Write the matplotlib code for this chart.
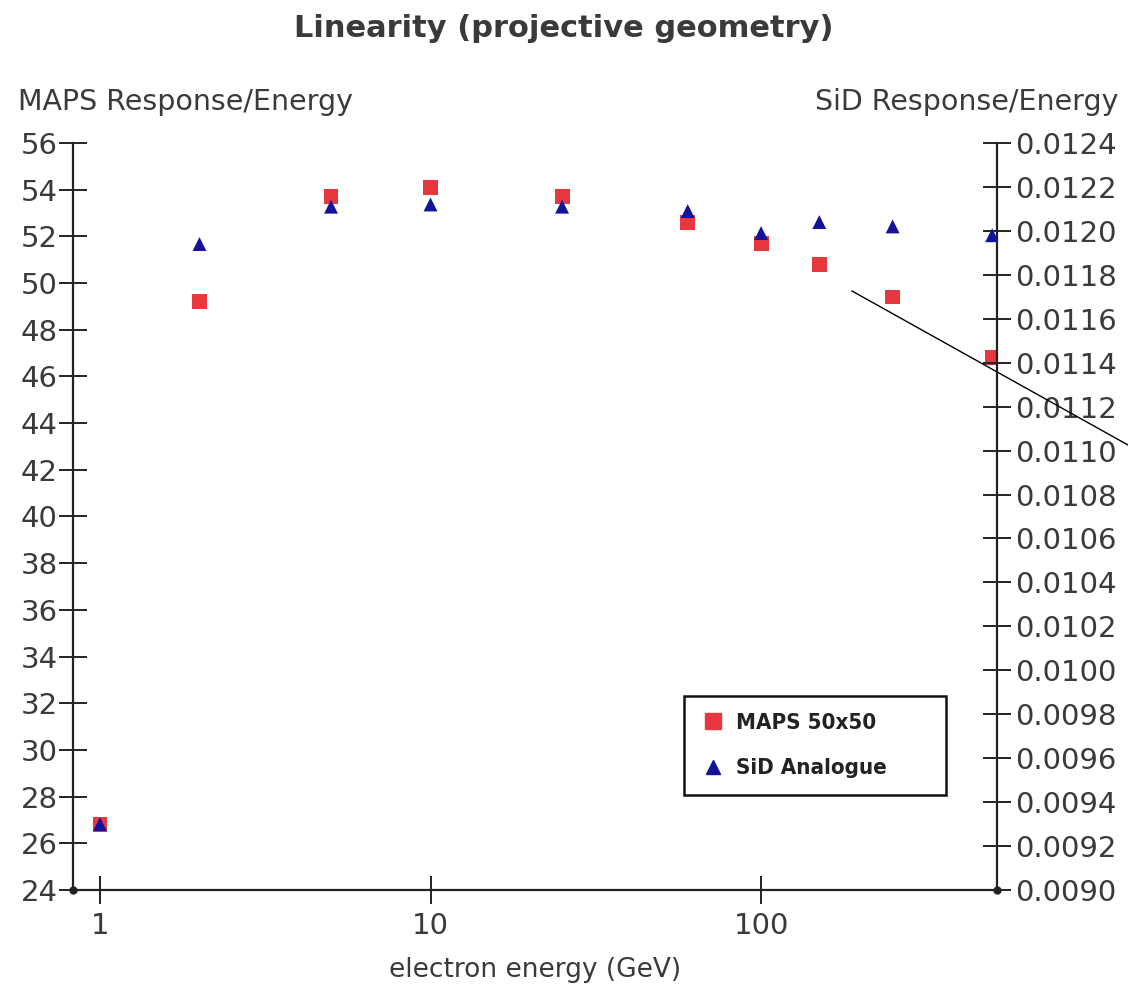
"""
Linearity (projective geometry) - MAPS vs SiD response per energy
"""

import matplotlib
matplotlib.use("Agg")
import matplotlib.pyplot as plt
from matplotlib.lines import Line2D

energy = [1, 2, 5, 10, 25, 60, 100, 150, 250, 500]
maps_resp = [26.8, 49.2, 53.7, 54.1, 53.7, 52.6, 51.7, 50.8, 49.4, 46.8]
sid_resp = [0.00930, 0.01194, 0.01211, 0.01212, 0.01211, 0.01209,
            0.01199, 0.01204, 0.01202, 0.01198]

left_ticks = list(range(24, 57, 2))
right_ticks = [0.0090 + 0.0002 * i for i in range(18)]
x_ticks = [1, 10, 100]

RED = "#e8383f"
BLUE = "#12129a"
TXT = "#3a3a3a"

plt.rcParams["font.family"] = "DejaVu Sans"

fig = plt.figure(figsize=(11.28, 9.88), dpi=100)
ax = fig.add_axes([0.0647, 0.0992, 0.8191, 0.7561])
ax2 = ax.twinx()

ax.set_xscale("log")
ax.set_xlim(0.8286, 517)
ax.set_ylim(24, 56)
ax2.set_ylim(0.0090, 0.0124)

ax.scatter(energy, maps_resp, marker="s", s=115, color=RED, zorder=3,
           edgecolors="none", label="MAPS 50x50")
ax2.scatter(energy, sid_resp, marker="^", s=100, color=BLUE, zorder=3,
            edgecolors="none", label="SiD Analogue")

ax.set_xticks(x_ticks)
ax.set_xticklabels([str(t) for t in x_ticks])
ax.xaxis.set_minor_locator(matplotlib.ticker.NullLocator())
ax.set_yticks(left_ticks)
ax2.set_yticks(right_ticks)
ax2.set_yticklabels(["%.4f" % t for t in right_ticks])

for a in (ax, ax2):
    a.spines["top"].set_visible(False)
    for sp in a.spines.values():
        sp.set_linewidth(1.6)
        sp.set_color("#222222")
    a.tick_params(direction="inout", length=20, width=1.4, color="#222222",
                  labelsize=21, labelcolor=TXT, pad=1)
ax.spines["right"].set_visible(False)
ax2.spines["left"].set_visible(False)
ax2.spines["bottom"].set_visible(False)
ax.tick_params(axis="x", pad=6)
ax2.tick_params(axis="y", pad=3)

# little dots at the axis corners
ax.plot([0, 1], [0, 0], "o", transform=ax.transAxes, color="#222222",
        ms=5, clip_on=False, zorder=5)

ax.set_xlabel("electron energy (GeV)", fontsize=19, color=TXT, labelpad=12)
fig.text(0.016, 0.897, "MAPS Response/Energy", fontsize=20.5, color=TXT,
         ha="left", va="center")
fig.text(0.992, 0.897, "SiD Response/Energy", fontsize=20.5, color=TXT,
         ha="right", va="center")
fig.suptitle("Linearity (projective geometry)", fontsize=22, fontweight="bold",
             color=TXT, y=0.986)

handles = [
    Line2D([], [], marker="s", ls="none", color=RED, ms=11, label="MAPS 50x50"),
    Line2D([], [], marker="^", ls="none", color=BLUE, ms=10, label="SiD Analogue"),
]
leg = ax.legend(handles=handles, loc="lower left", mode="expand",
                bbox_to_anchor=(0.661, 0.127, 0.284, 0.134), fancybox=False,
                framealpha=1, prop={"weight": "bold", "size": 16,
                                    "stretch": "condensed"},
                handletextpad=0.5, borderpad=0.75, labelspacing=1.15,
                handlelength=1.1, borderaxespad=0)
leg.get_frame().set_edgecolor("#111111")
leg.get_frame().set_linewidth(1.8)
for t in leg.get_texts():
    t.set_color("#222222")

# stray diagonal line present in the original image
fig.add_artist(Line2D([852 / 1128, 1.0], [1 - 291 / 988, 1 - 445 / 988],
                      color="black", lw=1.0))

fig.savefig("out.png", dpi=100)
